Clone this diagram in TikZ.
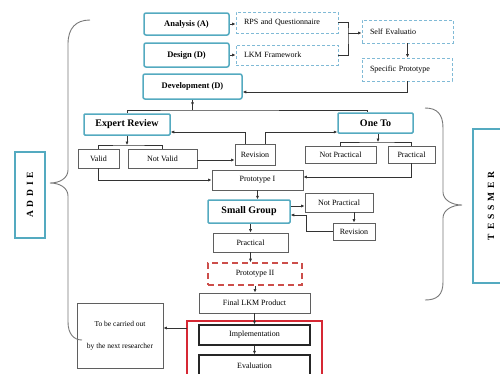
\documentclass[tikz,border=0pt]{standalone}
\usepackage{fontspec}
\setmainfont{Liberation Serif}
\newfontfamily\spacedfont[LetterSpace=40]{Liberation Serif}
\usetikzlibrary{arrows.meta}
\usetikzlibrary{fit}
\definecolor{addieteal}{RGB}{84,170,192}
\definecolor{dashblue}{RGB}{128,186,214}
\definecolor{linegray}{RGB}{95,95,95}
\definecolor{bracegray}{RGB}{120,120,120}
\definecolor{framered}{RGB}{214,40,52}
\definecolor{dashred}{RGB}{204,78,74}
\tikzset{phase/.style={draw=addieteal, line width=1.5pt, rounded corners=2pt, inner sep=0pt,
   font=\fontsize{8.5}{10}\selectfont\bfseries},
 headbox/.style={draw=addieteal, line width=1.5pt, rounded corners=1pt, inner sep=0pt,
   font=\fontsize{10}{12}\selectfont\bfseries},
 plan/.style={draw=dashblue, line width=0.9pt, dash pattern=on 3pt off 2pt, inner xsep=8pt,
   inner ysep=0pt, align=left, font=\fontsize{8}{9.6}\selectfont},
 plainbox/.style={draw=linegray, line width=0.8pt, inner sep=0pt, font=\fontsize{8}{9.6}\selectfont},
 stagebox/.style={draw=black!85, line width=1.2pt, inner sep=0pt, font=\fontsize{8}{9.6}\selectfont},
 protobox/.style={draw=dashred, line width=1.6pt, dash pattern=on 6pt off 4pt, inner sep=0pt,
   font=\fontsize{8}{9.6}\selectfont},
 redframe/.style={inner xsep=11pt, inner ysep=3pt},
 framepen/.style={draw=framered, line width=1.8pt},
 sidebox/.style={draw=addieteal, line width=1.5pt, inner sep=0pt, rotate=90,
   font=\fontsize{9.5}{11}\spacedfont\bfseries},
 brace/.style={draw=bracegray, line width=0.9pt},
 arr/.style={draw=black!80, line width=0.7pt, -{Latex[length=3.5pt,width=3.2pt]}},
 link/.style={draw=black!80, line width=0.7pt},
 }

\begin{document}
\begin{tikzpicture}[x=1pt,y=-1pt]
  \useasboundingbox (0,0) rectangle (500,373);
  \node[phase, minimum width=85pt, minimum height=22pt] (ana) at (186.5,24) {Analysis (A)};
  \node[phase, minimum width=85pt, minimum height=24pt] (des) at (186.5,55) {Design (D)};
  \node[phase, minimum width=99pt, minimum height=25pt] (dev) at (192.5,86.5) {Development (D)};
  \node[plan, text width=86pt, minimum height=21pt] (rps) at (287,22.5) {RPS and Questionnaire};
  \node[plan, text width=86pt, minimum height=20pt] (lkm) at (287,55) {LKM Framework};
  \node[plan, text width=75pt, minimum height=23pt] (self) at (407.5,31.5) {Self Evaluatio};
  \node[plan, text width=74pt, minimum height=23pt] (spec) at (407,69.5) {Specific Prototype};

  \node[headbox, minimum width=86pt, minimum height=21pt] (expert) at (127,124.5) {Expert Review};
  \node[headbox, minimum width=75pt, minimum height=20pt] (oneto) at (375.5,123) {One To};
  \node[plainbox, minimum width=41pt, minimum height=19pt] (valid) at (98.5,158.5) {Valid};
  \node[plainbox, minimum width=69pt, minimum height=19pt] (notvalid) at (162.5,158.5) {Not Valid};
  \node[plainbox, minimum width=40pt, minimum height=21pt] (revision) at (255,154.5) {Revision};
  \node[plainbox, minimum width=71pt, minimum height=17pt] (notprac) at (340.5,154.5) {Not Practical};
  \node[plainbox, minimum width=47pt, minimum height=17pt] (prac) at (411.5,154.5) {Practical};
  \node[plainbox, minimum width=91pt, minimum height=20pt] (proto1) at (257.5,180) {Prototype I};
  \node[headbox, minimum width=82pt, minimum height=23pt] (small) at (249,211.5) {Small Group};
  \node[plainbox, minimum width=68pt, minimum height=19pt] (np2) at (339,202.5) {Not Practical};
  \node[plainbox, minimum width=42pt, minimum height=17pt] (rev2) at (354,231.5) {Revision};
  \node[plainbox, minimum width=75pt, minimum height=19pt] (prac2) at (250.5,242.5) {Practical};
  \node[protobox, minimum width=94pt, minimum height=22pt] (proto2) at (255,274) {Prototype II};
  \node[plainbox, minimum width=111pt, minimum height=20pt] (final) at (254.5,303) {Final LKM Product};
  \node[stagebox, minimum width=111pt, minimum height=20pt] (impl) at (254.5,335) {Implementation};
  \node[stagebox, minimum width=111pt, minimum height=22pt] (eval) at (254.5,366) {Evaluation};
  \node[redframe, fit=(impl)(eval)] (stage) {};
  \draw[framepen] (stage.north west) rectangle (stage.south east);
  \node[plainbox, minimum width=86pt, minimum height=65pt, align=center,
    font=\fontsize{7.5}{9}\selectfont] (carry) at (120,335.5) {To be carried out\\[13pt]by the next researcher};

  \node[sidebox, minimum width=86pt, minimum height=30pt] (addie) at (30,195) {ADDIE};
  \node[sidebox, minimum width=154pt, minimum height=36pt] (tessmer) at (491,206) {TESSMER};

  \draw[brace] (90,20) .. controls (76,20) and (68,28) .. (68,44) -- (68,170)
    .. controls (68,178) and (60,183) .. (50,183) .. controls (60,183) and (68,188) .. (68,196)
    -- (68,322) .. controls (68,334) and (74,340) .. (82,340);
  \draw[brace] (425,108) .. controls (437,108) and (443,114) .. (443,128) -- (443,192)
    .. controls (443,200) and (452,205) .. (462,205) .. controls (452,205) and (443,210) .. (443,218)
    -- (443,282) .. controls (443,295) and (437,300) .. (425,300);

  \draw[arr] (ana.east) -- (ana.east -| rps.west);
  \draw[arr] (des.east) -- (des.east -| lkm.west);
  \coordinate (merge) at (348,33);
  \draw[link] (rps.east) -| (merge) |- (lkm.east);
  \draw[arr] (merge) -- (merge -| self.west);
  \draw[arr] (self.south) -- (self.south |- spec.north);
  \draw[arr] (spec.south) |- ([yshift=-5.5pt]dev.east);

  \coordinate (devbar) at (dev.south |- 0,110);
  \draw[arr] (dev.south) -- ++(0,6);
  \draw[link] (dev.south) -- (devbar);
  \draw[link] (expert.north) |- (devbar) -| ([xshift=-8pt]oneto.north);

  \coordinate (exsplit) at (expert.south |- 0,145);
  \draw[arr] (expert.south) -- (exsplit);
  \draw[link] (valid.north) |- (exsplit) -| (notvalid.north);
  \coordinate (nvout) at ([yshift=-1.5pt]notvalid.east);
  \draw[arr] (nvout) -- (nvout -| revision.west);
  \draw[arr] ([xshift=-10pt]revision.north) |- ([yshift=-7.5pt]expert.east);
  \draw[arr] ([xshift=10pt]revision.north) |- ([yshift=-9pt]oneto.west);

  \coordinate (otsplit) at ([xshift=2.5pt]oneto.south |- 0,142);
  \draw[arr] ([xshift=2.5pt]oneto.south) -- (otsplit);
  \draw[link] (notprac.north) |- (otsplit) -| (prac.north);
  \draw[arr] (prac.south) |- ([yshift=3pt]proto1.east);
  \draw[arr] (valid.south) |- (proto1.west);

  \draw[arr] (proto1.south) -- (proto1.south |- small.north);
  \coordinate (sgout) at ([yshift=5.5pt]small.east);
  \draw[arr] (sgout) -- (sgout -| np2.west);
  \draw[arr] (rev2.north |- np2.south) -- (rev2.north);
  \draw[arr] (rev2.west) -- ++(-26,0) |- ([yshift=-3.5pt]small.east);
  \draw[arr] (prac2.north |- small.south) -- (prac2.north);
  \draw[arr] (prac2.south) -- (prac2.south |- proto2.north);
  \draw[arr] (proto2.south) -- (proto2.south |- final.north);
  \draw[arr] (final.south) -- (impl.north);
  \draw[arr] (impl.south) -- (eval.north);
  \coordinate (handoff) at ([yshift=7pt]stage.west |- impl.west);
  \draw[arr] (handoff) -- (handoff -| carry.east);
\end{tikzpicture}
\end{document}
